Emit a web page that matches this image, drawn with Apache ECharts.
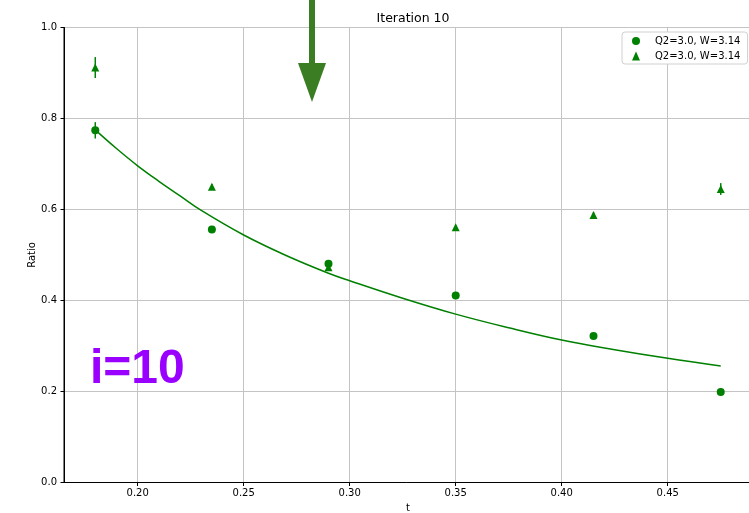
<!DOCTYPE html>
<html>
<head>
<meta charset="utf-8">
<script src="https://cdn.jsdelivr.net/npm/echarts@6/dist/echarts.min.js"></script>
<style>
html,body{margin:0;padding:0;background:#fff;}
#chart{width:749px;height:513px;}
</style>
</head>
<body>
<div id="chart"></div>
<script>
// ---- data ----
const tValues = [0.18, 0.235, 0.29, 0.35, 0.415, 0.475];
const ratioCircle = [0.774, 0.556, 0.481, 0.411, 0.322, 0.199];
const errCircle = [0.018, 0.005, 0.005, 0.004, 0.004, 0.004];
const ratioTriangle = [0.912, 0.650, 0.473, 0.561, 0.588, 0.645];
const errTriangle = [0.023, 0.006, 0.006, 0.005, 0.006, 0.013];
const fitT = [0.18, 0.19, 0.20, 0.21, 0.22, 0.23, 0.25, 0.27, 0.29, 0.30, 0.325, 0.35, 0.375, 0.40, 0.425, 0.45, 0.475];
const fitRatio = [0.775, 0.734, 0.696, 0.662, 0.630, 0.598, 0.544, 0.499, 0.460, 0.4435, 0.405, 0.370, 0.340, 0.313, 0.292, 0.273, 0.256];
const xTicks = [0.20, 0.25, 0.30, 0.35, 0.40, 0.45];
const yTicks = [0.0, 0.2, 0.4, 0.6, 0.8, 1.0];
const legendNames = ['Q2=3.0, W=3.14', 'Q2=3.0, W=3.14 '];
const titleText = 'Iteration 10';
const annotationText = 'i=10';

const green = '#008000';
const font = 'DejaVu Sans';

const circlePts = tValues.map((t, i) => [t, ratioCircle[i]]);
const trianglePts = tValues.map((t, i) => [t, ratioTriangle[i]]);
const circleErr = tValues.map((t, i) => [t, ratioCircle[i] - errCircle[i], ratioCircle[i] + errCircle[i]]);
const triangleErr = tValues.map((t, i) => [t, ratioTriangle[i] - errTriangle[i], ratioTriangle[i] + errTriangle[i]]);
const fitPts = fitT.map((t, i) => [t, fitRatio[i]]);

function errRender(params, api) {
  const x = api.value(0);
  const lo = api.coord([x, api.value(1)]);
  const hi = api.coord([x, api.value(2)]);
  return {
    type: 'line',
    shape: {x1: lo[0], y1: lo[1], x2: hi[0], y2: hi[1]},
    style: {stroke: green, lineWidth: 1.5}
  };
}

const chart = echarts.init(document.getElementById('chart'), null, {renderer: 'canvas'});
chart.setOption({
  animation: false,
  backgroundColor: '#fff',
  title: {
    text: titleText,
    left: 408, top: 7, textAlign: 'center',
    textStyle: {fontFamily: font, fontSize: 12.5, fontWeight: 'normal', color: '#000'}
  },
  legend: {
    data: [{name: legendNames[0], icon: 'circle'}, {name: legendNames[1], icon: 'triangle'}],
    orient: 'vertical',
    left: 622, top: 32,
    padding: [4, 4, 3, 10],
    itemGap: 5,
    itemWidth: 8, itemHeight: 9,
    backgroundColor: '#fff',
    borderColor: '#d0d0d0', borderWidth: 1, borderRadius: 3,
    textStyle: {fontFamily: font, fontSize: 10, color: '#000', padding: [0, 0, 0, 10]}
  },
  grid: {
    left: 64, top: 27.5, width: 688, height: 455,
    outerBoundsMode: 'none', containLabel: false,
    show: true, borderColor: '#000', borderWidth: 1, backgroundColor: 'transparent'
  },
  xAxis: {
    type: 'value', min: 0.16525, max: 0.48975,
    name: 't', nameLocation: 'middle', nameGap: 20,
    nameTextStyle: {fontFamily: font, fontSize: 10, color: '#000'},
    axisLine: {show: true, lineStyle: {color: '#000', width: 1}},
    axisTick: {show: true, inside: false, length: 3.5, lineStyle: {color: '#000'}, customValues: xTicks},
    axisLabel: {fontFamily: font, fontSize: 10, color: '#000', margin: 6, customValues: xTicks,
      formatter: v => v.toFixed(2)},
    splitLine: {show: true, lineStyle: {color: '#c4c4c4', width: 1}}
  },
  yAxis: {
    type: 'value', min: 0, max: 1, interval: 0.2,
    name: 'Ratio', nameLocation: 'middle', nameGap: 27, nameRotate: 90, nameMoveOverlap: false,
    nameTextStyle: {fontFamily: font, fontSize: 10, color: '#000'},
    axisLine: {show: true, lineStyle: {color: '#000', width: 1}},
    axisTick: {show: true, inside: false, length: 3.5, lineStyle: {color: '#000'}},
    axisLabel: {fontFamily: font, fontSize: 10, color: '#000', margin: 7,
      formatter: v => v.toFixed(1)},
    splitLine: {show: true, lineStyle: {color: '#c4c4c4', width: 1}}
  },
  series: [
    {type: 'custom', renderItem: errRender, data: circleErr, z: 3, silent: true},
    {type: 'custom', renderItem: errRender, data: triangleErr, z: 3, silent: true},
    {name: legendNames[0], type: 'scatter', data: circlePts, symbol: 'circle', symbolSize: 8,
      itemStyle: {color: green, opacity: 1}, z: 4},
    {name: legendNames[1], type: 'scatter', data: trianglePts, symbol: 'triangle', symbolSize: 8,
      itemStyle: {color: green, opacity: 1}, z: 4},
    {type: 'line', data: fitPts, smooth: 0.4, showSymbol: false, symbol: 'none',
      lineStyle: {color: green, width: 1.5}, z: 5, silent: true}
  ],
  graphic: [
    {type: 'text', left: 90, top: 346, z: 100,
      style: {text: annotationText, fill: '#9900ff', font: 'bold 48px "Liberation Sans", Arial, sans-serif'}},
    {type: 'rect', shape: {x: 309, y: 0, width: 6, height: 64}, style: {fill: '#3a7d22'}, z: 100},
    {type: 'polygon', shape: {points: [[298, 63], [326, 63], [312, 102]]}, style: {fill: '#3a7d22'}, z: 100}
  ]
});
</script>
</body>
</html>
